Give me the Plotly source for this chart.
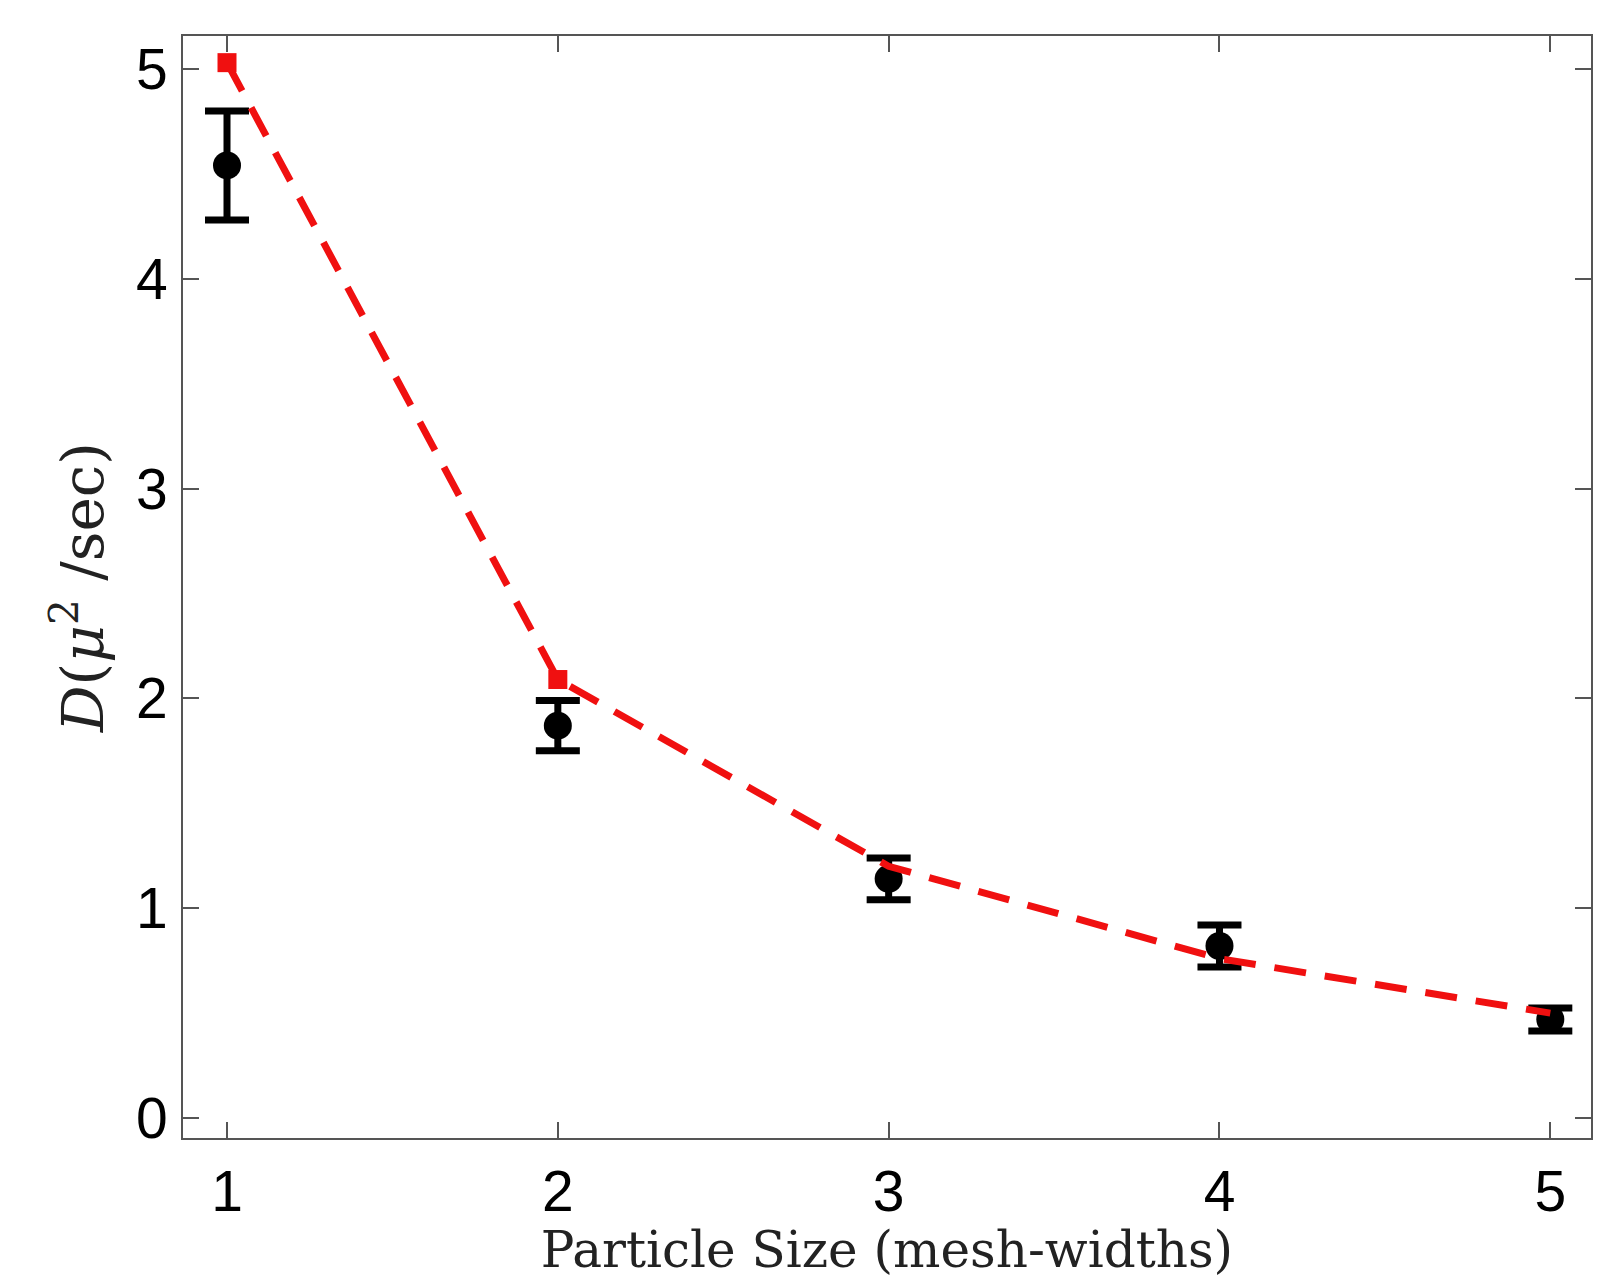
import plotly.graph_objects as go

# Data
particle_size = [1, 2, 3, 4, 5]
d_measured = [4.54, 1.87, 1.14, 0.82, 0.47]
d_error = [0.26, 0.12, 0.10, 0.10, 0.055]
d_theory = [5.03, 2.09, 1.20, 0.76, 0.50]
theory_marker_x = [1, 2]
theory_marker_y = [5.03, 2.09]

fig = go.Figure()

fig.add_trace(go.Scatter(
    x=particle_size, y=d_measured, mode="markers",
    marker=dict(symbol="circle", size=28, color="black"),
    error_y=dict(type="data", array=d_error, visible=True,
                 color="black", thickness=7, width=22),
    showlegend=False,
))

fig.add_trace(go.Scatter(
    x=particle_size, y=d_theory, mode="lines",
    line=dict(color="#f01010", width=7, dash="32px,19px"),
    showlegend=False,
))

fig.add_trace(go.Scatter(
    x=theory_marker_x, y=theory_marker_y, mode="markers",
    marker=dict(symbol="square", size=19, color="#f01010"),
    showlegend=False,
))

axis_common = dict(
    showline=True, linecolor="#555555", linewidth=2, mirror="ticks",
    ticks="inside", ticklen=16, tickwidth=2, tickcolor="#555555",
    showgrid=False, zeroline=False, automargin=False,
    tickfont=dict(family="Liberation Sans, Arial", size=57, color="black"),
)

# page body has an 8px default margin, so the figure is 8px smaller
fig.update_layout(
    width=1601, height=1271,
    margin=dict(l=175, r=18, t=28, b=141),
    paper_bgcolor="white", plot_bgcolor="white",
    xaxis=dict(range=[0.867, 5.123], tickvals=[1, 2, 3, 4, 5],
               ticklabelstandoff=3,
               title=dict(text="Particle Size (mesh-widths)", standoff=30,
                          font=dict(family="DejaVu Serif, serif", size=50, color="#222222")),
               **axis_common),
    yaxis=dict(range=[-0.095, 5.157], tickvals=[0, 1, 2, 3, 4, 5],
               ticklabelstandoff=2,
               title=dict(text="<i>D</i>(<i>μ</i><sup>2</sup> /sec)", standoff=14,
                          font=dict(family="DejaVu Serif, serif", size=58, color="#222222")),
               **axis_common),
)

fig.write_html("out.html")
